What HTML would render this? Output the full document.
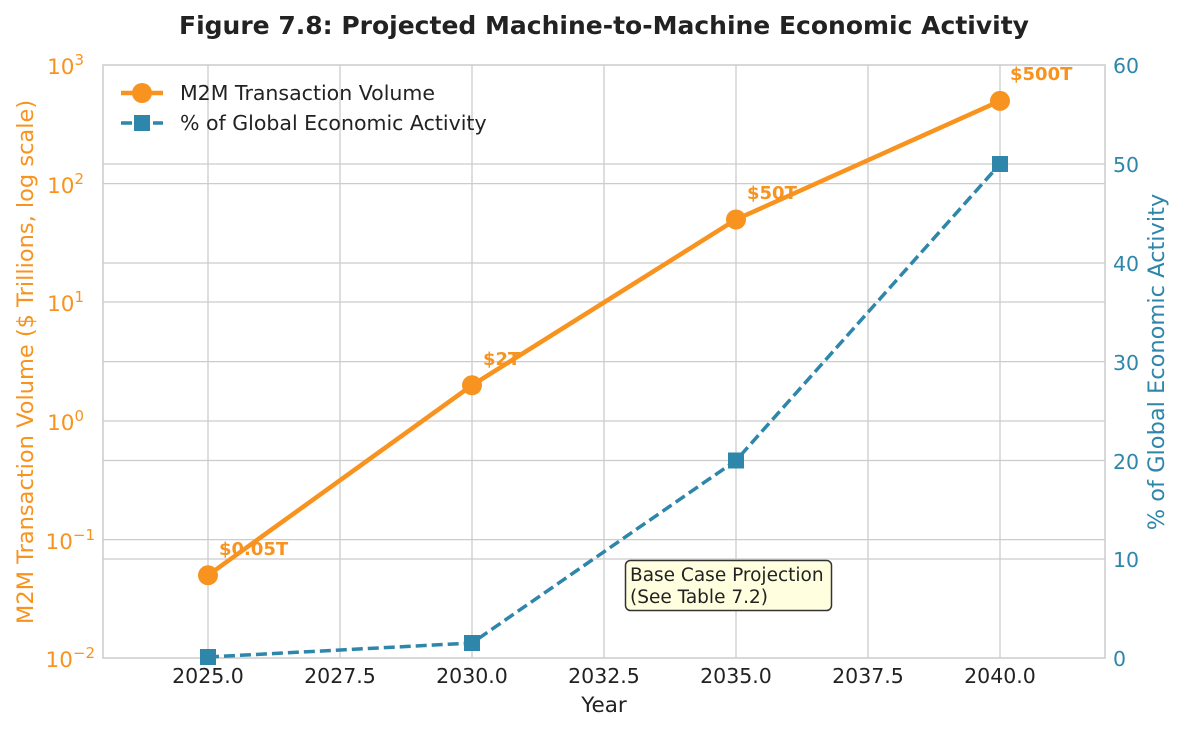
<!DOCTYPE html>
<html><head><meta charset="utf-8"><style>
body{margin:0;background:#fff;}
svg text{font-family:"DejaVu Sans","Liberation Sans",sans-serif;}
</style></head><body>
<svg width="1185" height="732" viewBox="0 0 1185 732" xmlns="http://www.w3.org/2000/svg">
<rect width="1185" height="732" fill="#fff"/>
<text x="604" y="34" text-anchor="middle" font-size="25" font-weight="bold" fill="#222">Figure 7.8: Projected Machine-to-Machine Economic Activity</text>
<g stroke="#cccccc" stroke-width="1.3">
<line x1="208" y1="65" x2="208" y2="658"/><line x1="340" y1="65" x2="340" y2="658"/>
<line x1="472" y1="65" x2="472" y2="658"/><line x1="604" y1="65" x2="604" y2="658"/>
<line x1="736" y1="65" x2="736" y2="658"/><line x1="868" y1="65" x2="868" y2="658"/>
<line x1="1000" y1="65" x2="1000" y2="658"/>
<line x1="103" y1="183.6" x2="1105" y2="183.6"/><line x1="103" y1="302" x2="1105" y2="302"/>
<line x1="103" y1="421" x2="1105" y2="421"/><line x1="103" y1="539.6" x2="1105" y2="539.6"/>
<line x1="103" y1="164" x2="1105" y2="164"/><line x1="103" y1="263" x2="1105" y2="263"/>
<line x1="103" y1="361.6" x2="1105" y2="361.6"/><line x1="103" y1="460.5" x2="1105" y2="460.5"/>
<line x1="103" y1="559" x2="1105" y2="559"/>
</g>
<rect x="103" y="65" width="1002" height="593" fill="none" stroke="#cccccc" stroke-width="1.5"/>
<g font-size="20.5" fill="#222" text-anchor="middle">
<text x="208" y="683">2025.0</text><text x="340" y="683">2027.5</text><text x="472" y="683">2030.0</text>
<text x="604" y="683">2032.5</text><text x="736" y="683">2035.0</text><text x="868" y="683">2037.5</text>
<text x="1000" y="683">2040.0</text>
<text x="604" y="712" font-size="21.5">Year</text>
</g>
<g font-size="21.5" fill="#f7931e" text-anchor="end">
<text x="84" y="74">10<tspan font-size="15" dy="-9">3</tspan></text>
<text x="84" y="193">10<tspan font-size="15" dy="-9">2</tspan></text>
<text x="84" y="311">10<tspan font-size="15" dy="-9">1</tspan></text>
<text x="84" y="430">10<tspan font-size="15" dy="-9">0</tspan></text>
<text x="95" y="549">10<tspan font-size="15" dy="-9">−1</tspan></text>
<text x="95" y="667">10<tspan font-size="15" dy="-9">−2</tspan></text>
</g>
<text transform="translate(33,362) rotate(-90)" text-anchor="middle" font-size="22.5" fill="#f7931e">M2M Transaction Volume ($ Trillions, log scale)</text>
<g font-size="20.5" fill="#2e86ab">
<text x="1113" y="73">60</text><text x="1113" y="172">50</text><text x="1113" y="271">40</text>
<text x="1113" y="370">30</text><text x="1113" y="469">20</text><text x="1113" y="567">10</text>
<text x="1113" y="666">0</text>
</g>
<text transform="translate(1164,362) rotate(-90)" text-anchor="middle" font-size="22.5" fill="#2e86ab">% of Global Economic Activity</text>
<polyline points="208,575.3 472,385.3 736,219.5 1000,100.9" fill="none" stroke="#f7931e" stroke-width="4.5"/>
<g fill="#f7931e"><circle cx="208" cy="575.3" r="10"/><circle cx="472" cy="385.3" r="10"/><circle cx="736" cy="219.5" r="10"/><circle cx="1000" cy="100.9" r="10"/></g>
<polyline points="208,657 472,643 736,460.5 1000,164" fill="none" stroke="#2e86ab" stroke-width="3.5" stroke-dasharray="11,5"/>
<g fill="#2e86ab"><rect x="200" y="649" width="16" height="16"/><rect x="464" y="635" width="16" height="16"/><rect x="728" y="452.5" width="16" height="16"/><rect x="992" y="156" width="16" height="16"/></g>
<g font-size="18" font-weight="bold" fill="#f7931e">
<text x="219" y="555">$0.05T</text><text x="483" y="365">$2T</text><text x="747" y="199">$50T</text><text x="1010" y="80">$500T</text>
</g>
<rect x="625.5" y="560.5" width="206" height="50" rx="5" fill="#ffffe0" stroke="#333" stroke-width="1.5"/>
<text x="630" y="581" font-size="18.5" fill="#222">Base Case Projection</text>
<text x="630" y="603" font-size="18.5" fill="#222">(See Table 7.2)</text>
<line x1="121" y1="93" x2="163" y2="93" stroke="#f7931e" stroke-width="4.5"/>
<circle cx="142" cy="93" r="10" fill="#f7931e"/>
<text x="180" y="100" font-size="20.5" fill="#222">M2M Transaction Volume</text>
<line x1="121" y1="123" x2="163" y2="123" stroke="#2e86ab" stroke-width="3.5" stroke-dasharray="11,5"/>
<rect x="134" y="115" width="16" height="16" fill="#2e86ab"/>
<text x="180" y="130" font-size="20.5" fill="#222">% of Global Economic Activity</text>
</svg>
</body></html>
